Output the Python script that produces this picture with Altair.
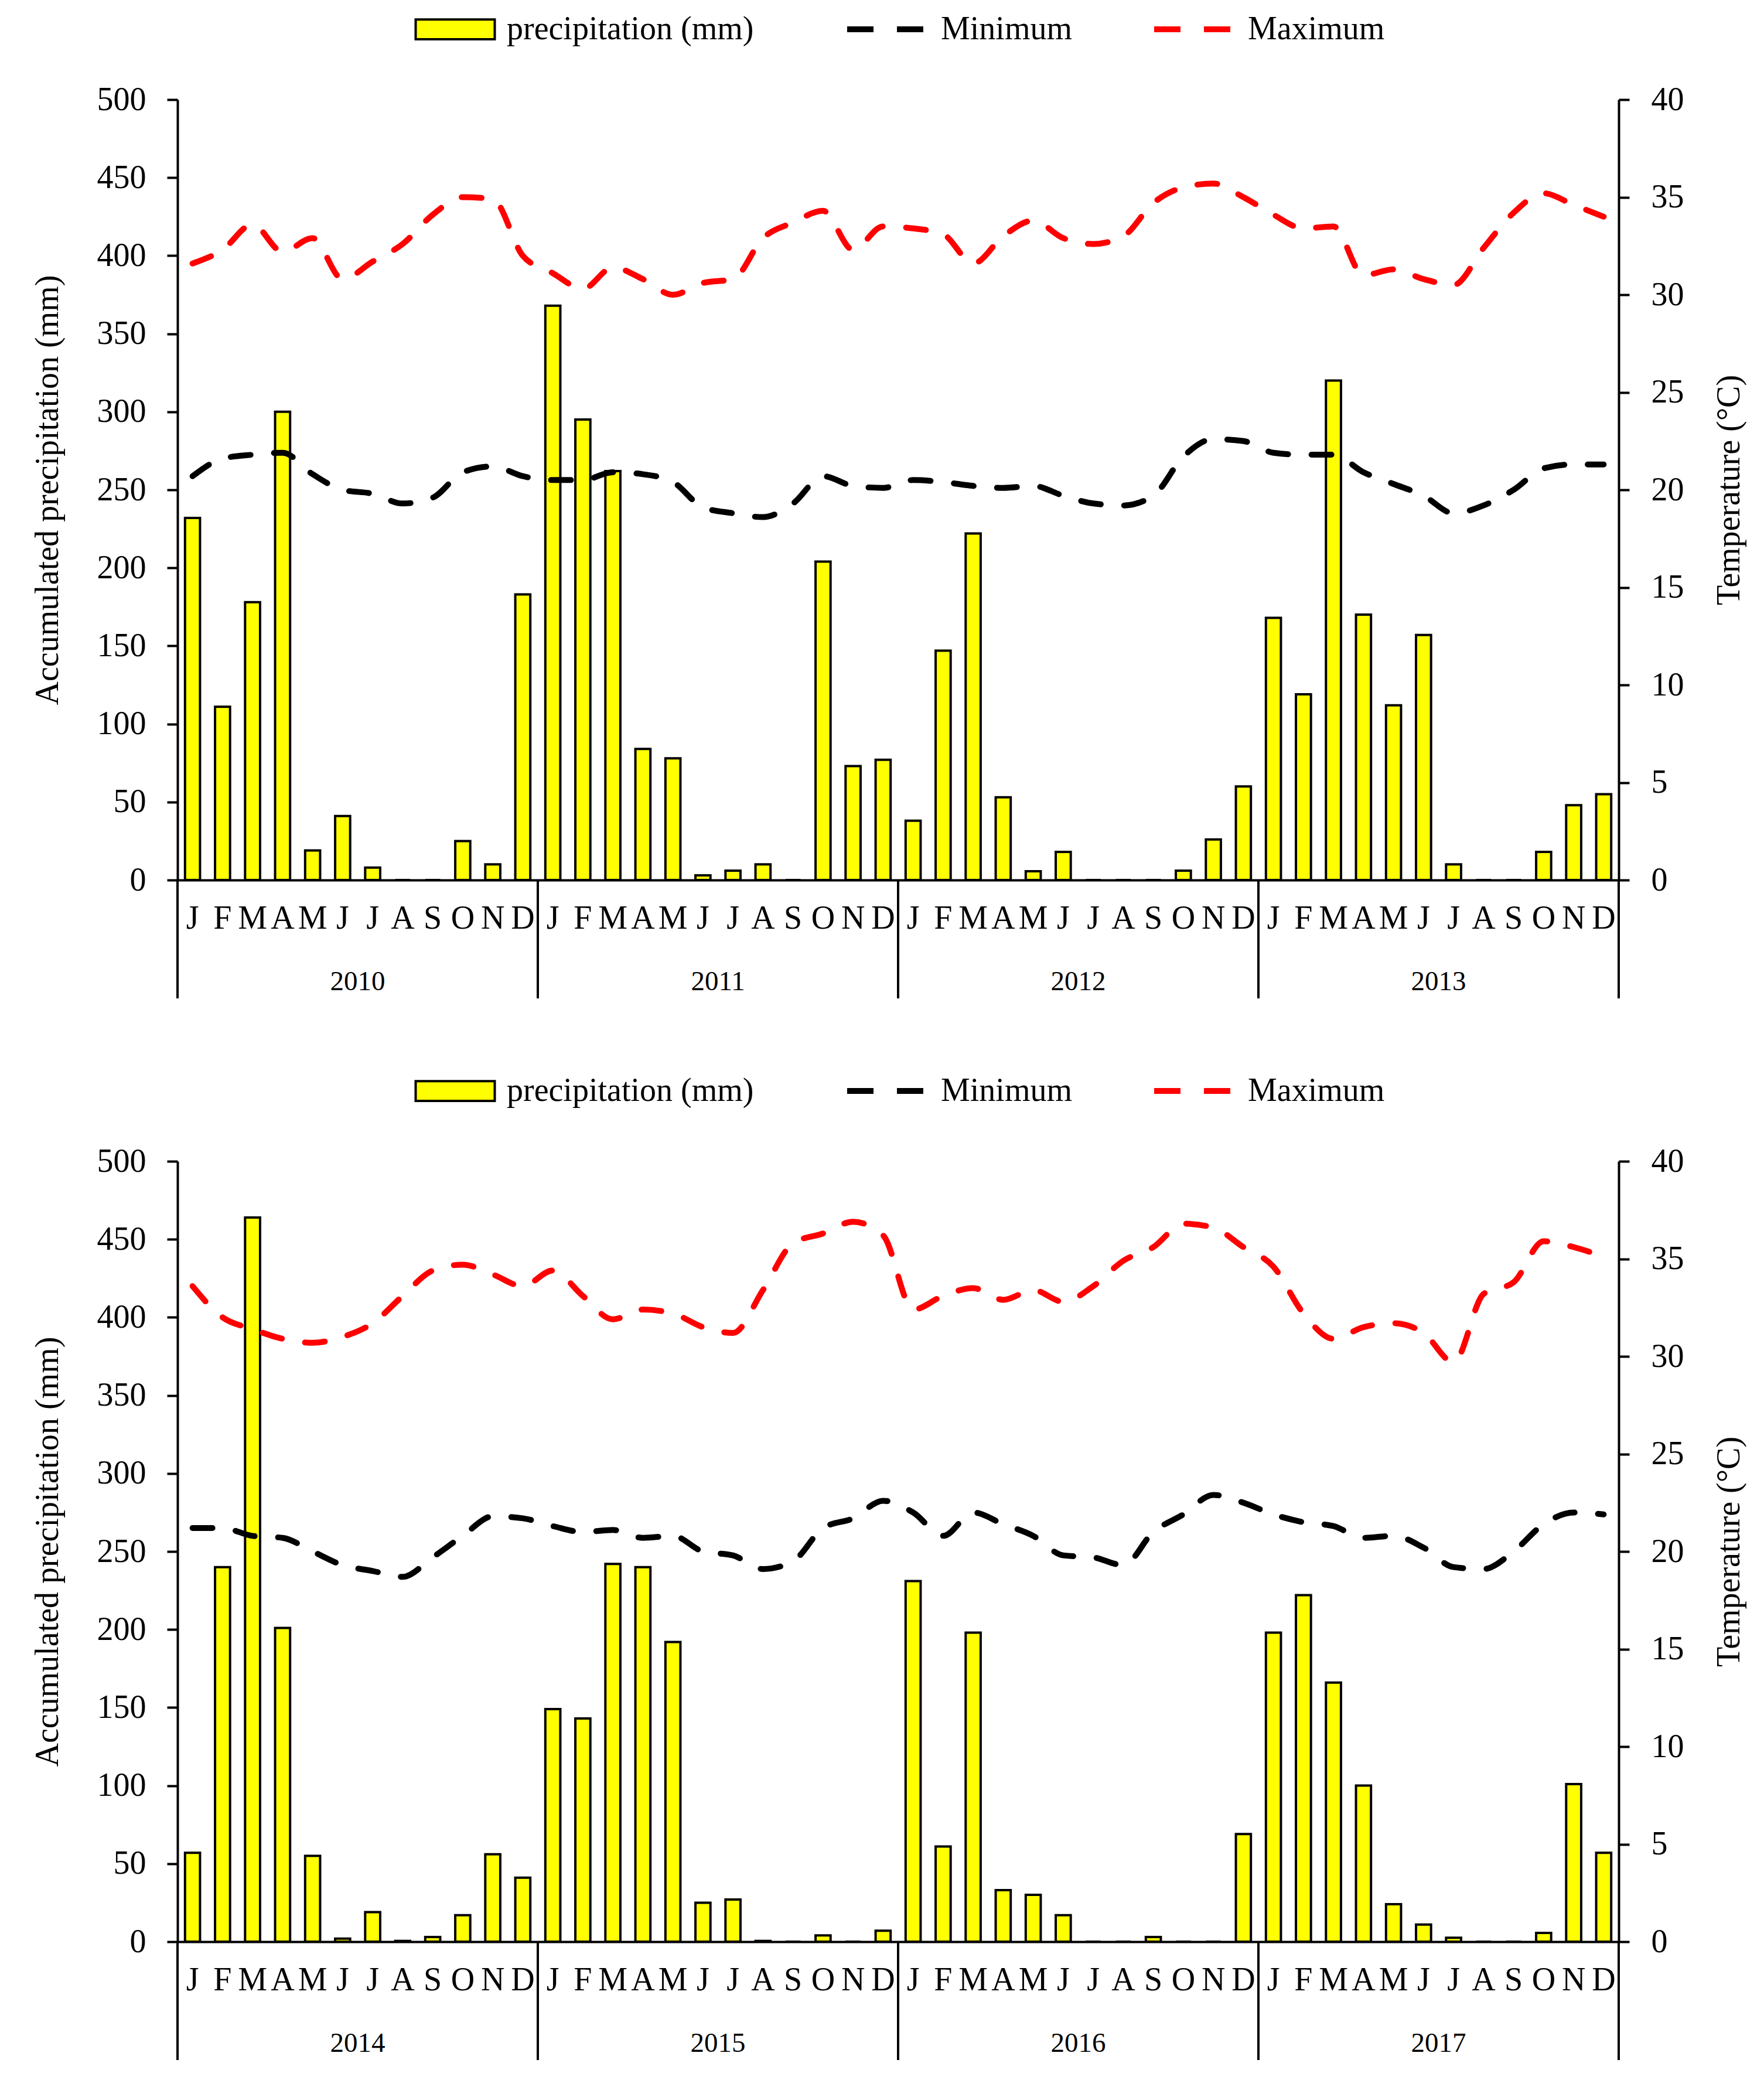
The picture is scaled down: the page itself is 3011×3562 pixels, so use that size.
import altair as alt
import pandas as pd

alt.data_transformers.disable_max_rows()

# ---------------------------------------------------------------------------
# Data
# ---------------------------------------------------------------------------
months = ['J', 'F', 'M', 'A', 'M', 'J', 'J', 'A', 'S', 'O', 'N', 'D']
PRECIP = 'precipitation (mm)'

years_top = ['2010', '2011', '2012', '2013']
precip_top = [
    232, 111, 178, 300, 19, 41, 8, 0, 0, 25, 10, 183,       # 2010
    368, 295, 262, 84, 78, 3, 6, 10, 0, 204, 73, 77,        # 2011
    38, 147, 222, 53, 5.6, 18, 0, 0, 0, 6, 26, 60,          # 2012
    168, 119, 320, 170, 112, 157, 10, 0, 0, 18, 48, 55,     # 2013
]
tmin_top = [
    20.7, 21.6, 21.8, 21.9, 20.8, 20.0, 19.8, 19.3, 19.6, 20.9, 21.2, 20.7,
    20.5, 20.5, 20.9, 20.8, 20.4, 19.1, 18.8, 18.6, 19.3, 20.7, 20.2, 20.1,
    20.5, 20.4, 20.2, 20.1, 20.2, 19.7, 19.3, 19.2, 19.7, 21.7, 22.6, 22.5,
    21.9, 21.8, 21.8, 20.9, 20.3, 19.7, 18.8, 19.2, 20.0, 21.1, 21.3, 21.3,
]
tmax_top = [
    31.6, 32.3, 33.6, 32.2, 32.9, 30.8, 31.7, 32.6, 34.1, 35.0, 34.9, 32.0,
    31.1, 30.3, 31.4, 30.8, 30.0, 30.6, 30.8, 32.9, 33.7, 34.3, 32.3, 33.5,
    33.4, 33.1, 31.6, 33.0, 33.8, 32.9, 32.6, 33.0, 34.7, 35.5, 35.7, 35.0,
    34.1, 33.4, 33.5, 31.0, 31.3, 30.8, 30.5, 32.4, 34.2, 35.2, 34.6, 34.0,
]

years_bottom = ['2014', '2015', '2016', '2017']
precip_bottom = [
    57, 240, 464, 201, 55, 2, 19, 0.5, 3, 17, 56, 41,        # 2014
    149, 143, 242, 240, 192, 25, 27, 0.5, 0, 4, 0, 7,        # 2015
    231, 61, 198, 33, 30, 17, 0, 0, 3, 0, 0, 69,             # 2016
    198, 222, 166, 100, 24, 11, 2.5, 0, 0, 5.6, 101, 57,     # 2017
]
tmin_bottom = [
    21.2, 21.2, 20.8, 20.7, 20.0, 19.3, 19.0, 18.7, 19.7, 20.8, 21.8, 21.7,
    21.3, 21.0, 21.1, 20.7, 20.8, 20.0, 19.8, 19.1, 19.5, 21.2, 21.7, 22.6,
    22.0, 20.8, 22.0, 21.4, 20.8, 19.8, 19.7, 19.3, 21.0, 21.9, 22.9, 22.5,
    21.9, 21.5, 21.3, 20.7, 20.8, 20.2, 19.2, 19.1, 20.0, 21.4, 22.0, 21.9,
]
tmax_bottom = [
    33.6, 32.0, 31.4, 30.9, 30.7, 31.0, 31.7, 33.1, 34.4, 34.7, 34.2, 33.6,
    34.4, 33.1, 31.9, 32.4, 32.2, 31.5, 31.2, 33.4, 35.8, 36.3, 36.9, 36.2,
    32.4, 33.1, 33.5, 32.9, 33.4, 32.8, 33.6, 34.9, 35.6, 36.8, 36.6, 35.6,
    34.6, 32.2, 30.9, 31.5, 31.7, 31.2, 29.7, 33.2, 33.8, 35.9, 35.6, 35.1,
]

# ---------------------------------------------------------------------------
# Style
# ---------------------------------------------------------------------------
W, H = 2460, 1332
FONT = 'Liberation Serif'
FS = 56
LINE = 4

month_expr = "[" + ",".join("'%s'" % m for m in months) + "][datum.value % 12]"

axis_style = dict(
    labelFont=FONT, titleFont=FONT, labelFontSize=FS, titleFontSize=FS,
    titleFontWeight='normal', labelColor='black', titleColor='black',
    domainColor='black', tickColor='black', grid=False,
    domainWidth=LINE,
)

# legend symbols: small nominal size (keeps the legend row short), wide paths
fill_enc = alt.Fill(
    'series:N',
    scale=alt.Scale(domain=[PRECIP], range=['#ffff00']),
    legend=alt.Legend(title=None, orient='none', legendX=446, legendY=-148,
                      labelFont=FONT, labelFontSize=FS, labelColor='black',
                      labelOffset=60, labelLimit=0,
                      symbolType='M-3,-0.75H3V0.75H-3Z', symbolSize=2025,
                      symbolStrokeColor='black', symbolStrokeWidth=LINE,
                      symbolOpacity=1),
)
stroke_enc = alt.Stroke(
    'series:N',
    scale=alt.Scale(domain=['Minimum', 'Maximum'], range=['#000000', '#ff0000']),
    legend=alt.Legend(title=None, orient='none', legendX=1180, legendY=-148,
                      direction='horizontal', columnPadding=118,
                      labelFont=FONT, labelFontSize=FS, labelColor='black',
                      labelOffset=67, labelLimit=0,
                      symbolType='M-2.889,0H2.889', symbolSize=2025,
                      symbolStrokeWidth=10, symbolDash=[45, 40],
                      symbolOpacity=1),
)

x_enc = alt.X(
    'idx:O',
    scale=alt.Scale(paddingInner=0, paddingOuter=0),
    axis=alt.Axis(title=None, labelExpr=month_expr, labelAngle=0, ticks=False,
                  labelPadding=38, **axis_style),
)


def panel(years, precip, tmin, tmax):
    n = len(precip)
    bars_df = pd.DataFrame({'idx': range(n), 'value': precip, 'series': PRECIP})
    lines_df = pd.DataFrame({
        'idx': list(range(n)) * 2,
        'value': tmin + tmax,
        'series': ['Minimum'] * n + ['Maximum'] * n,
    })
    years_df = pd.DataFrame({'idx': [12 * i + 6 for i in range(len(years))], 'year': years})
    seps_df = pd.DataFrame({'idx': [12 * i for i in range(len(years))]})
    end_df = pd.DataFrame({'idx': [n - 1]})

    bars = alt.Chart(bars_df).mark_bar(
        width=alt.RelativeBandSize(0.5), stroke='black', strokeWidth=LINE
    ).encode(
        x=x_enc,
        y=alt.Y('value:Q', scale=alt.Scale(domain=[0, 500]),
                axis=alt.Axis(title='Accumulated precipitation (mm)', orient='left',
                              values=list(range(0, 501, 50)),
                              tickSize=18, tickWidth=LINE,
                              labelPadding=36, titlePadding=55, **axis_style)),
        fill=fill_enc,
    )

    lines = alt.Chart(lines_df).mark_line(
        strokeDash=[34, 40], strokeWidth=10, strokeCap='round', interpolate='monotone'
    ).encode(
        x=alt.X('idx:O'),
        y=alt.Y('value:Q', scale=alt.Scale(domain=[0, 40]),
                axis=alt.Axis(title='Temperature (°C)', orient='right',
                              values=list(range(0, 41, 5)),
                              tickSize=18, tickWidth=LINE,
                              labelPadding=37, titlePadding=50, titleAngle=270,
                              titleBaseline='top', **axis_style)),
        stroke=stroke_enc,
    )

    seps = alt.Chart(seps_df).mark_rule(color='black', strokeWidth=LINE).encode(
        x=alt.X('idx:O', bandPosition=0),
        y=alt.value(H), y2=alt.value(H + 202),
    )
    end = alt.Chart(end_df).mark_rule(color='black', strokeWidth=LINE).encode(
        x=alt.X('idx:O', bandPosition=1),
        y=alt.value(H), y2=alt.value(H + 202),
    )
    year_text = alt.Chart(years_df).mark_text(
        font=FONT, fontSize=47, baseline='middle', color='black'
    ).encode(
        x=alt.X('idx:O', bandPosition=0),
        y=alt.value(H + 174),
        text='year:N',
    )

    return alt.layer(bars, lines, seps, end, year_text).resolve_scale(
        y='independent'
    ).properties(width=W, height=H)


top = panel(years_top, precip_top, tmin_top, tmax_top)
bottom = panel(years_bottom, precip_bottom, tmin_bottom, tmax_bottom)

chart = alt.vconcat(top, bottom, spacing=128).resolve_scale(
    fill='independent', stroke='independent'
).resolve_legend(
    fill='independent', stroke='independent'
).properties(
    padding={'left': 45, 'top': 14, 'right': 5, 'bottom': 5},
    background='white'
).configure_view(
    stroke=None
)

chart.save('out.html', embed_options={'renderer': 'svg', 'actions': False})
